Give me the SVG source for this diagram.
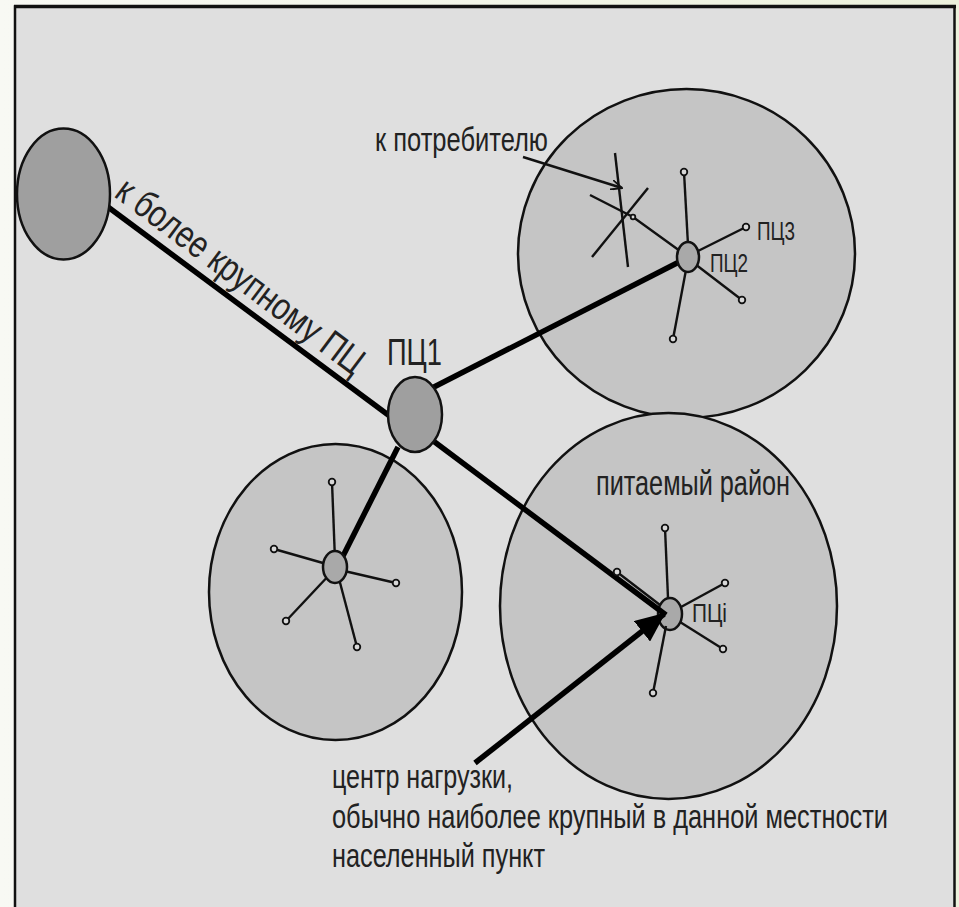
<svg xmlns="http://www.w3.org/2000/svg" width="959" height="907" viewBox="0 0 959 907">
  <defs>
    <linearGradient id="page" x1="0" y1="0" x2="1" y2="0">
      <stop offset="0" stop-color="#f8f9f4"/>
      <stop offset="1" stop-color="#ecf1dc"/>
    </linearGradient>
    <marker id="bigArrow" viewBox="0 0 30 26" refX="28" refY="13" markerWidth="30" markerHeight="26" markerUnits="userSpaceOnUse" orient="auto">
      <path d="M0,0 L30,13 L0,26 Z" fill="#000"/>
    </marker>
    <marker id="smallArrow" viewBox="0 0 12 10" refX="11" refY="5" markerWidth="12" markerHeight="10" markerUnits="userSpaceOnUse" orient="auto">
      <path d="M0,0 L11,5 L0,10" fill="none" stroke="#111" stroke-width="1.8"/>
    </marker>
  </defs>
  <style>
    .district { fill: #c5c5c5; stroke: #111; stroke-width: 2.5; }
    .big { fill: #9f9f9f; stroke: #111; stroke-width: 2.5; }
    .node { fill: #a9a9a9; stroke: #111; stroke-width: 2.5; }
    .thick { stroke: #000; stroke-width: 5.5; fill: none; }
    .spoke { stroke: #111; stroke-width: 2.4; fill: none; }
    .tip { fill: #d8d8d8; stroke: #111; stroke-width: 1.8; }
    .txt { font-family: "Liberation Sans", Arial, sans-serif; fill: #222; }
  </style>

  <rect x="0" y="0" width="959" height="907" fill="url(#page)"/>
  <rect id="panel" x="15" y="6.5" width="939.5" height="912" fill="#dfdfdf" stroke="#111" stroke-width="2.5"/>
  <line x1="14" y1="6.5" x2="956" y2="6.5" stroke="#111" stroke-width="3.5"/>

  <g id="district-2">
    <ellipse class="district" cx="686.5" cy="253.5" rx="168.5" ry="164.5"/>
  </g>
  <g id="district-i">
    <ellipse class="district" cx="668.5" cy="606" rx="168.5" ry="193"/>
  </g>
  <g id="district-left">
    <ellipse class="district" cx="335.5" cy="592" rx="126.5" ry="148"/>
  </g>

  <g id="node-pci">
    <ellipse class="node" cx="670" cy="614" rx="12" ry="16" fill="#b0b0b0"/>
    <text class="txt" x="692" y="622" font-size="26" textLength="35" lengthAdjust="spacingAndGlyphs">ПЦi</text>
  </g>

  <g id="connectors">
    <line class="thick" x1="108" y1="207" x2="395" y2="420" stroke-width="6"/>
    <line class="thick" x1="432" y1="388" x2="679" y2="262"/>
    <line class="thick" x1="398" y1="447" x2="343" y2="556"/>
    <line class="thick" x1="432" y1="440" x2="666" y2="615"/>
    <line class="thick" x1="475" y1="763" x2="664" y2="614" marker-end="url(#bigArrow)"/>
    <line class="spoke" x1="523" y1="157" x2="622" y2="188" stroke-width="2" marker-end="url(#smallArrow)"/>
  </g>

  <g id="consumer">
    <polyline class="spoke" points="590,195 633,217 680,251"/>
    <line class="spoke" x1="615" y1="153" x2="628" y2="267"/>
    <line class="spoke" x1="648" y1="188" x2="592" y2="257"/>
    <circle class="tip" cx="633" cy="217" r="2.3"/>
  </g>

  <g id="spokes-2">
    <line class="spoke" x1="688" y1="245" x2="684" y2="172"/>
    <line class="spoke" x1="696" y1="252" x2="746" y2="227"/>
    <line class="spoke" x1="695" y1="264" x2="742" y2="300"/>
    <line class="spoke" x1="686" y1="270" x2="673" y2="339"/>
    <circle class="tip" cx="684" cy="172" r="3.3"/>
    <circle class="tip" cx="746" cy="227" r="3.3"/>
    <circle class="tip" cx="742" cy="300" r="3.3"/>
    <circle class="tip" cx="673" cy="339" r="3.3"/>
  </g>

  <g id="spokes-left">
    <line class="spoke" x1="335" y1="560" x2="332" y2="482"/>
    <line class="spoke" x1="330" y1="565" x2="274" y2="549"/>
    <line class="spoke" x1="340" y1="570" x2="396" y2="583"/>
    <line class="spoke" x1="332" y1="572" x2="286" y2="621"/>
    <line class="spoke" x1="338" y1="575" x2="357" y2="647"/>
    <circle class="tip" cx="332" cy="482" r="3.3"/>
    <circle class="tip" cx="274" cy="549" r="3.3"/>
    <circle class="tip" cx="396" cy="583" r="3.3"/>
    <circle class="tip" cx="286" cy="621" r="3.3"/>
    <circle class="tip" cx="357" cy="647" r="3.3"/>
  </g>

  <g id="spokes-i">
    <line class="spoke" x1="668" y1="598" x2="665" y2="528"/>
    <line class="spoke" x1="681" y1="607" x2="725" y2="583"/>
    <line class="spoke" x1="680" y1="622" x2="723" y2="649"/>
    <line class="spoke" x1="666" y1="626" x2="653" y2="693"/>
    <line class="spoke" x1="660" y1="605" x2="617" y2="572"/>
    <circle class="tip" cx="665" cy="528" r="3.3"/>
    <circle class="tip" cx="725" cy="583" r="3.3"/>
    <circle class="tip" cx="723" cy="649" r="3.3"/>
    <circle class="tip" cx="653" cy="693" r="3.3"/>
    <circle class="tip" cx="617" cy="572" r="3.3"/>
  </g>

  <g id="node-upper">
    <ellipse class="big" cx="63.5" cy="194" rx="46.5" ry="65.5"/>
  </g>
  <g id="node-pc1">
    <ellipse class="big" cx="415" cy="414.5" rx="27" ry="37.5"/>
    <text class="txt" x="387" y="365" font-size="36" textLength="55" lengthAdjust="spacingAndGlyphs">ПЦ1</text>
  </g>
  <g id="node-pc2">
    <ellipse class="node" cx="688" cy="257" rx="11" ry="15"/>
    <text class="txt" x="710" y="272" font-size="25" textLength="38" lengthAdjust="spacingAndGlyphs">ПЦ2</text>
  </g>
  <g id="node-pc3-label">
    <text class="txt" x="757" y="240" font-size="25" textLength="38" lengthAdjust="spacingAndGlyphs">ПЦ3</text>
  </g>
  <g id="node-left">
    <ellipse class="node" cx="335" cy="567" rx="12" ry="16"/>
  </g>

  <g id="labels">
    <text class="txt" x="0" y="0" font-size="38" textLength="300" lengthAdjust="spacingAndGlyphs" transform="translate(113,196) rotate(36.87)">к более крупному ПЦ</text>
    <text class="txt" x="375" y="151" font-size="33" textLength="173" lengthAdjust="spacingAndGlyphs">к потребителю</text>
    <text class="txt" x="596" y="495" font-size="35" textLength="194" lengthAdjust="spacingAndGlyphs">питаемый район</text>
    <text class="txt" x="332" y="788" font-size="34" textLength="181" lengthAdjust="spacingAndGlyphs">центр нагрузки,</text>
    <text class="txt" x="332" y="828" font-size="34" textLength="556" lengthAdjust="spacingAndGlyphs">обычно наиболее крупный в данной местности</text>
    <text class="txt" x="332" y="867" font-size="34" textLength="213" lengthAdjust="spacingAndGlyphs">населенный пункт</text>
  </g>
</svg>
